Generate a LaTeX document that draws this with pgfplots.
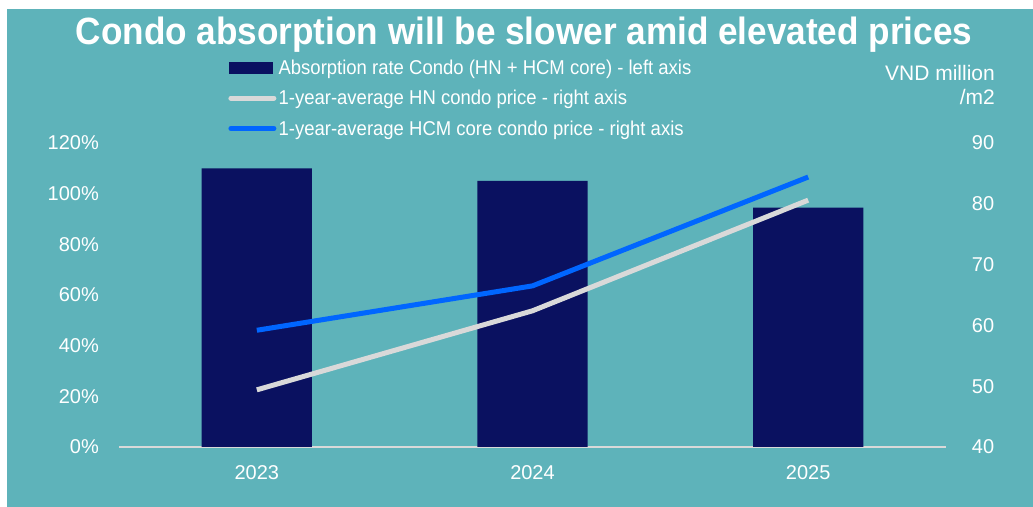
\documentclass[border=0pt]{standalone}
\usepackage{fontspec}
\setmainfont{Liberation Sans}
\newfontfamily\narrow[FakeStretch=0.925]{Liberation Sans}
\usepackage{pgfplots}
\pgfplotsset{compat=1.18}
\definecolor{bg}{HTML}{5EB3BA}
\definecolor{navy}{HTML}{0A1160}
\definecolor{hcm}{HTML}{0066FF}
\definecolor{hn}{HTML}{D9D9D9}
\begin{document}
\begin{tikzpicture}
\fill[white] (0,0) rectangle (1033bp,507bp);
\fill[bg] (7bp,0) rectangle (1033bp,498bp);
\useasboundingbox (0,0) rectangle (1033bp,507bp);
\node[anchor=base, text=white, inner sep=0pt, font=\fontsize{38bp}{40bp}\narrow\bfseries] at (524bp,462bp) {Condo absorption will be slower amid elevated prices};
\node[anchor=north east, align=right, text=white, inner sep=0pt, font=\fontsize{21bp}{24bp}\selectfont] at (995bp,442bp) {VND million\\/m2};
\pgfplotsset{common/.style={scale only axis, width=827bp, height=304bp, at={(119bp,60bp)}, anchor=south west, xmin=-0.5, xmax=2.5, major tick length=0pt, tick label style={text=white, font=\fontsize{20bp}{24bp}\selectfont, inner sep=0pt}, /pgf/number format/assume math mode=true}}
\begin{axis}[common, ymin=0, ymax=120, ytick={0,20,...,120},
  yticklabel={\pgfmathprintnumber{\tick}\%},
  xtick={0,1,2}, xticklabels={2023,2024,2025},
  axis x line*=bottom, axis y line*=left, separate axis lines,
  x axis line style={draw=hn, line width=2bp}, y axis line style={draw=none},
  yticklabel style={anchor=east, xshift=-20bp}, xticklabel style={anchor=north, yshift=-18bp},
  legend style={at={(0.1318,1.299)}, anchor=north west, draw=none, fill=none, inner sep=0pt,
    text=white, font=\fontsize{20bp}{24bp}\narrow, cells={anchor=west}, row sep=0pt,
    nodes={inner xsep=2bp, inner ysep=0pt, text height=22bp, text depth=8.5bp}},
]
\addplot[fill=navy, draw=none, ybar, bar width=0.4,
  legend image code/.code={\path (0bp,0bp) (48bp,0bp); \fill[navy] (1bp,-6bp) rectangle (45bp,6bp);}]
  coordinates {(0,110) (1,105) (2,94.5)};
\addlegendentry{Absorption rate Condo (HN + HCM core) - left axis}
\addlegendimage{legend image code/.code={\path (0bp,0bp) (48bp,0bp); \draw[hn, line width=5bp, line cap=round] (2.5bp,0bp) -- (45.5bp,0bp);}}
\addlegendentry{1-year-average HN condo price - right axis}
\addlegendimage{legend image code/.code={\path (0bp,0bp) (48bp,0bp); \draw[hcm, line width=5bp, line cap=round] (2.5bp,0bp) -- (45.5bp,0bp);}}
\addlegendentry{1-year-average HCM core condo price - right axis}
\end{axis}
\begin{axis}[common, ymin=40, ymax=90, ytick={40,50,...,90},
  hide x axis, axis y line*=right, y axis line style={draw=none},
  yticklabel style={anchor=west, xshift=25.7bp}]
\addplot[hn, line width=5bp, line join=round, sharp plot] coordinates {(0,49.4) (1,62.4) (2,80.6)};
\addplot[hcm, line width=5bp, line join=round, sharp plot] coordinates {(0,59.2) (1,66.5) (2,84.4)};
\end{axis}
\end{tikzpicture}
\end{document}
